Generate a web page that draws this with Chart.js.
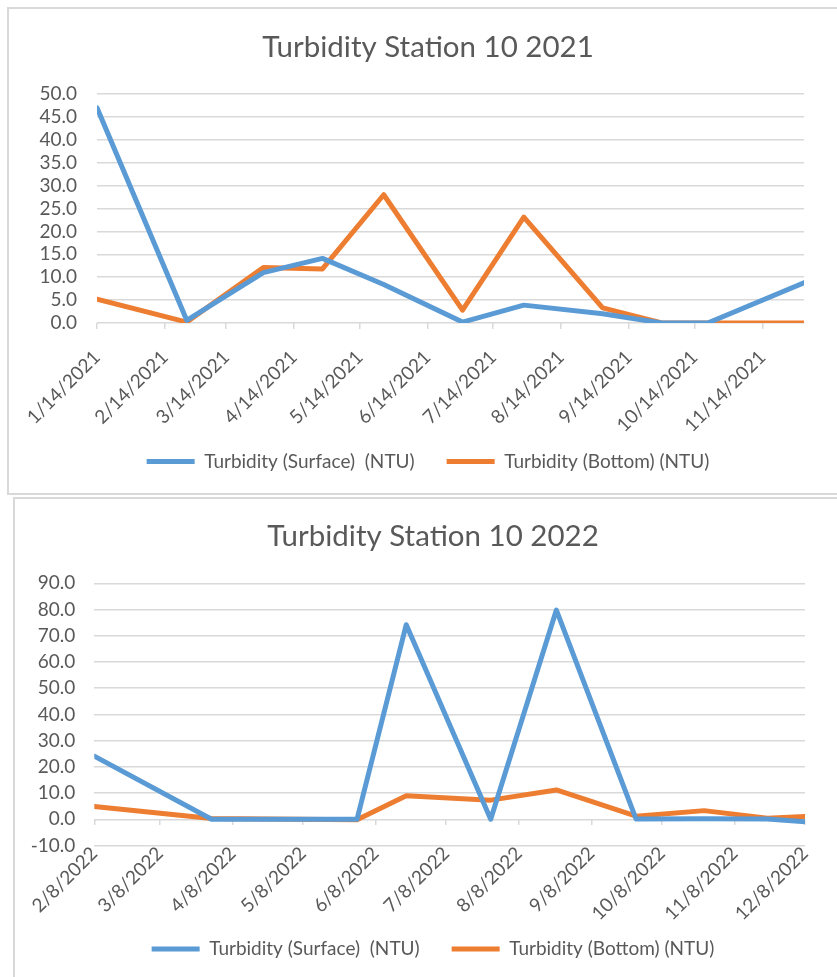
<!DOCTYPE html>
<html><head><meta charset="utf-8">
<script src="https://cdn.jsdelivr.net/npm/chart.js@4"></script>
<style>
html,body{margin:0;padding:0;width:837px;height:977px;overflow:hidden;background:#fff;}
.frame{position:absolute;border:2px solid #d9d9d9;box-sizing:border-box;}
#f1{left:7px;top:7px;width:860px;height:488px;}
#f2{left:13px;top:497px;width:860px;height:520px;}
canvas{position:absolute;left:0;}
#c1{top:0;}
#c2{top:495px;}
</style></head><body>
<div class="frame" id="f1"></div><div class="frame" id="f2"></div>
<canvas id="c1" width="837" height="488"></canvas>
<canvas id="c2" width="850" height="479"></canvas>
<script>
// ---------- data ----------
const seriesNames = ['Turbidity (Surface)  (NTU)', 'Turbidity (Bottom) (NTU)'];

const titles = ['Turbidity Station 10 2021', 'Turbidity Station 10 2022'];

const dates2021 = ['1/14/2021','2/24/2021','3/31/2021','4/27/2021','5/25/2021','6/30/2021','7/28/2021','9/2/2021','9/29/2021','10/20/2021','12/3/2021'];
const surface2021 = [47.0, 0.6, 11.0, 14.1, 8.4, 0.2, 3.9, 2.0, 0.0, 0.0, 8.8];
const bottom2021  = [5.2, 0.2, 12.1, 11.8, 28.0, 2.8, 23.1, 3.3, 0.0, 0.0, 0.0];
const tickLabels2021 = ['1/14/2021','2/14/2021','3/14/2021','4/14/2021','5/14/2021','6/14/2021','7/14/2021','8/14/2021','9/14/2021','10/14/2021','11/14/2021'];
const yTicks2021 = {min: 0, max: 50, step: 5};

const dates2022 = ['2/8/2022','3/30/2022','5/31/2022','6/21/2022','7/27/2022','8/24/2022','9/27/2022','10/26/2022','11/22/2022','12/8/2022'];
const surface2022 = [24.1, 0.0, 0.0, 74.2, 0.0, 79.8, 0.1, 0.2, 0.1, -0.9];
const bottom2022  = [4.9, 0.3, -0.2, 9.0, 7.3, 11.2, 1.2, 3.3, 0.4, 1.1];
const tickLabels2022 = ['2/8/2022','3/8/2022','4/8/2022','5/8/2022','6/8/2022','7/8/2022','8/8/2022','9/8/2022','10/8/2022','11/8/2022','12/8/2022'];
const yTicks2022 = {min: -10, max: 90, step: 10};

// ---------- style ----------
const FONT = 'Lato';
const TEXT = '#595959';
const GRID = '#d9d9d9';
const BLUE = '#5b9bd5';
const ORANGE = '#ed7d31';

function dayNum(s){ const p = s.split('/').map(Number); return Date.UTC(p[2], p[0]-1, p[1]) / 86400000; }

function spacer(axis, position, size){
  return { type: 'linear', axis, position, display: true,
    grid: {display: false}, border: {display: false}, ticks: {display: false},
    afterFit: s => { if (axis === 'x') s.height = size; else s.width = size; } };
}

function build(id, o){
  const xs = o.dates.map(dayNum);
  const tickVals = o.tickLabels.map(dayNum);
  const labelFor = new Map(tickVals.map((v,i)=>[v, o.tickLabels[i]]));
  const mk = (label, vals, color) => ({
    label, data: vals.map((v,i)=>({x: xs[i], y: v})),
    borderColor: color, backgroundColor: color, borderWidth: 5,
    pointRadius: 0, pointHoverRadius: 0, tension: 0,
    borderCapStyle: 'round', borderJoinStyle: 'round', pointStyle: 'line'
  });
  const scales = {
    x: {
      type: 'linear', min: xs[0], max: xs[xs.length-1],
      position: {y: 0},
      afterBuildTicks: s => { s.ticks = tickVals.map(v => ({value: v})); },
      ticks: { autoSkip: false, minRotation: 45, maxRotation: 45, padding: 17,
               color: TEXT, font: {family: FONT, size: 19},
               callback: v => labelFor.get(v) ?? '' },
      grid: { drawOnChartArea: false, drawTicks: true, tickLength: 6, color: GRID, lineWidth: 1.5 },
      border: { display: false }
    },
    y: {
      min: o.y.min, max: o.y.max,
      afterFit: s => { s.width = o.yWidth; },
      ticks: { autoSkip: false, stepSize: o.y.step, padding: o.yPad, color: TEXT,
               font: {family: FONT, size: 19},
               callback: v => Number(v).toFixed(1) },
      grid: { drawTicks: false, color: GRID, lineWidth: 1.5 },
      border: { display: false }
    },
    gapBottom: spacer('x', 'bottom', o.gap),
    gapRight: spacer('y', 'right', o.rightGap)
  };
  return new Chart(document.getElementById(id), {
    type: 'line',
    data: { datasets: [mk(seriesNames[0], o.s, BLUE), mk(seriesNames[1], o.b, ORANGE)] },
    options: {
      responsive: false, animation: false, devicePixelRatio: 1,
      layout: { padding: o.pad },
      scales,
      plugins: {
        tooltip: {enabled: false},
        title: { display: true, text: o.title, color: TEXT,
                 font: {family: FONT, size: 29.5, weight: 'normal'}, padding: o.titlePad },
        legend: { position: 'bottom',
          labels: { usePointStyle: true, pointStyle: 'line', pointStyleWidth: 48,
                    padding: 32, color: TEXT, font: {family: FONT, size: 19} } }
      }
    }
  });
}

build('c1', {
  dates: dates2021, s: surface2021, b: bottom2021, tickLabels: tickLabels2021, y: yTicks2021,
  title: titles[0], gap: 97, rightGap: 22,
  pad: {top: 10, left: 30, right: 11, bottom: 7}, yWidth: 67, yPad: 20,
  titlePad: {top: 19.3, bottom: 29.3}
});
build('c2', {
  dates: dates2022, s: surface2022, b: bottom2022, tickLabels: tickLabels2022, y: yTicks2022,
  title: titles[1], gap: 62, rightGap: 41,
  pad: {top: 10, left: 20, right: 4, bottom: 5.5}, yWidth: 74.3, yPad: 19,
  titlePad: {top: 13.5, bottom: 29.4}
});
</script>
</body></html>
